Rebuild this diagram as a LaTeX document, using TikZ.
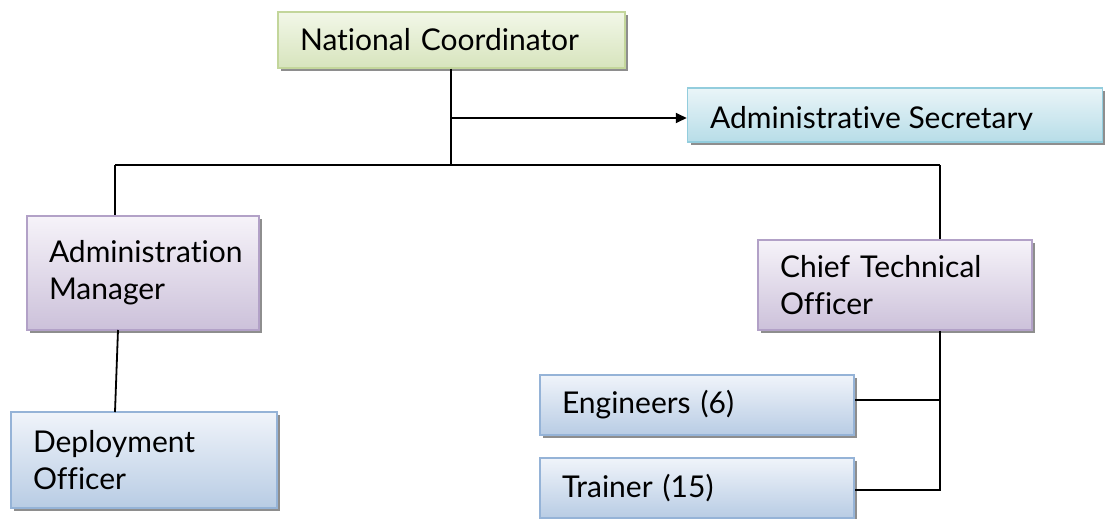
\documentclass[tikz,border=0pt]{standalone}
\usepackage{fontspec}
\setmainfont{Lato}[Ligatures={NoCommon}]
\usetikzlibrary{shadows,arrows.meta}
\definecolor{grnB}{HTML}{C3D69B}\definecolor{grnT}{HTML}{F2F7E8}\definecolor{grnD}{HTML}{D7E4BD}
\definecolor{cyaB}{HTML}{93CDDD}\definecolor{cyaT}{HTML}{EAF5F8}\definecolor{cyaD}{HTML}{B7DDE8}
\definecolor{purB}{HTML}{B2A1C7}\definecolor{purT}{HTML}{F6F3F9}\definecolor{purD}{HTML}{CCC1DA}
\definecolor{bluB}{HTML}{95B3D7}\definecolor{bluT}{HTML}{F0F4FA}\definecolor{bluD}{HTML}{B8CCE4}
\definecolor{shd}{HTML}{8E8E8E}
\tikzset{
  box/.style={draw, line width=1.5pt, rectangle, inner xsep=22pt, inner ysep=0pt, align=left,
    font=\fontsize{30}{37}\selectfont,
    drop shadow={shadow xshift=3pt, shadow yshift=-3pt, fill=shd, opacity=1}},
  grn/.style={box, draw=grnB, top color=grnT, bottom color=grnD},
  cya/.style={box, draw=cyaB, top color=cyaT, bottom color=cyaD},
  pur/.style={box, draw=purB, top color=purT, bottom color=purD},
  blu/.style={box, draw=bluB, top color=bluT, bottom color=bluD},
  conn/.style={line width=1.8pt, black},
}
\newcommand{\bx}[6]{% name, style, x1, y1, x2, y2 ; text follows
  \node[#2, minimum width={#5-#3}, minimum height={#6-#4}, text width={#5-#3-44}] (#1) at ({(#3+#5)/2},{(#4+#6)/2})}
\begin{document}
\begin{tikzpicture}[x=1pt,y=-1pt]
\useasboundingbox (0,0) rectangle (1105,519);
\bx{nc}{grn}{278}{12}{625}{68} {National Coordinator};
\node[cya, minimum width=415, minimum height=54, text width=371] (as) at (895,115) {};
\begin{scope}
\clip (690,90) rectangle (1100,129);
\node[font=\fontsize{30}{37}\selectfont, anchor=base west, inner sep=0pt] (ast) at (710,128) {Administrative Secretary};
\end{scope}
\bx{am}{pur}{27}{216}{259}{330} {Administration\\Manager};
\bx{cto}{pur}{758}{240}{1032}{330} {Chief Technical\\Officer};
\bx{do}{blu}{11}{412}{277}{508} {Deployment\\Officer};
\bx{en}{blu}{540}{375}{854}{435} {Engineers (6)};
\bx{tr}{blu}{540}{458}{854}{518} {Trainer (15)};
\coordinate (j) at (451,165);
\coordinate (jl) at (115,165);
\coordinate (jr) at (940,165);
\coordinate (a0) at (451,118);
\coordinate (ce) at (940,400);
\coordinate (ct) at (940,490);
\draw[conn] (nc.south -| j) -- (j);
\draw[conn,-{Triangle[length=11pt,width=10pt]}] (a0) -- (as.west |- a0);
\draw[conn] (jl) -- (jr);
\draw[conn] (jl) -- (am.north -| jl);
\draw[conn] (jr) -- (cto.north -| jr);
\draw[conn] (118,330) -- (115,412);
\draw[conn] (cto.south -| jr) -- (ct) -- (tr.east |- ct);
\draw[conn] (en.east |- ce) -- (ce);
\end{tikzpicture}
\end{document}
